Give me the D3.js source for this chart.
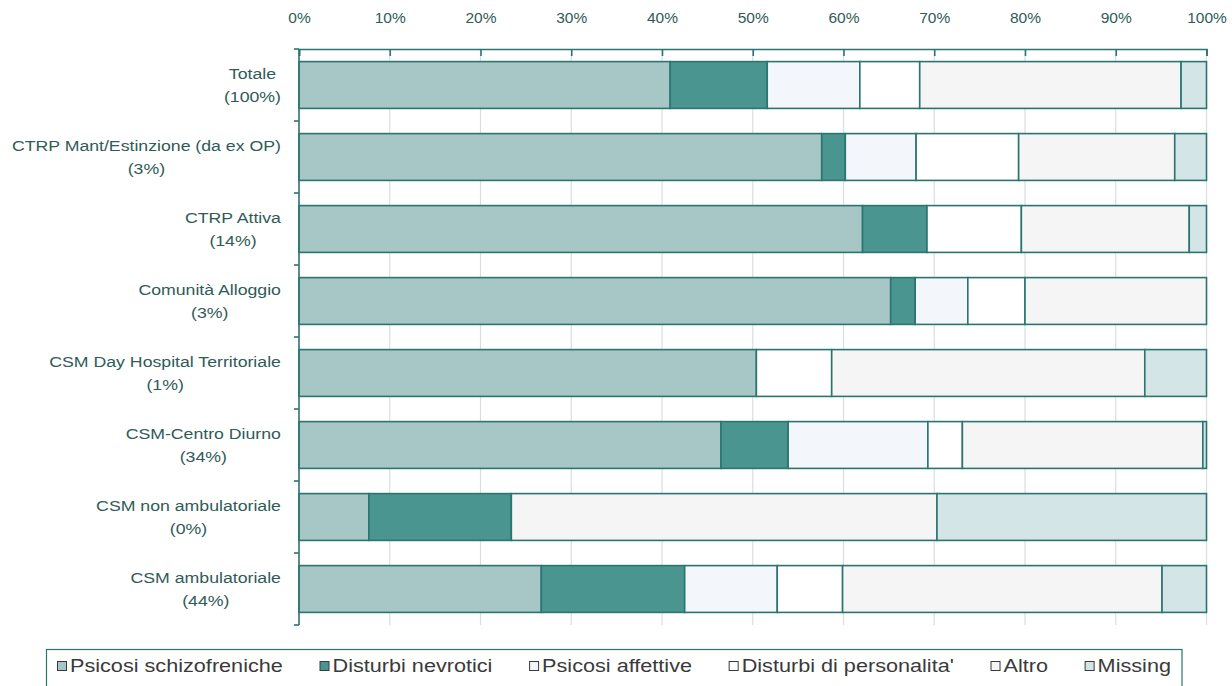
<!DOCTYPE html>
<html>
<head>
<meta charset="utf-8">
<script src="https://cdn.jsdelivr.net/npm/d3@7"></script>
<style>
  html, body { margin: 0; padding: 0; background: #ffffff; }
  svg { display: block; font-family: "Liberation Sans", Arial, sans-serif; }
</style>
</head>
<body>
<svg id="chart" width="1232" height="686"></svg>
<script>
// Service types (rows, top to bottom) and their share of total users
const categories = [
  "Totale",
  "CTRP Mant/Estinzione (da ex OP)",
  "CTRP Attiva",
  "Comunità Alloggio",
  "CSM Day Hospital Territoriale",
  "CSM-Centro Diurno",
  "CSM non ambulatoriale",
  "CSM ambulatoriale"
];
const shares = ["(100%)", "(3%)", "(14%)", "(3%)", "(1%)", "(34%)", "(0%)", "(44%)"];

// Diagnostic groups (stack order, left to right)
const seriesNames = [
  "Psicosi schizofreniche",
  "Disturbi nevrotici",
  "Psicosi affettive",
  "Disturbi di personalita'",
  "Altro",
  "Missing"
];

// Percentages per service type, one array per diagnostic group
const psicosiSchizofreniche = [40.9, 57.6, 62.1, 65.2, 50.4, 46.5, 7.7, 26.7];
const disturbiNevrotici     = [10.7, 2.6, 7.1, 2.7, 0, 7.4, 15.7, 15.8];
const psicosiAffettive      = [10.2, 7.8, 0, 5.8, 0, 15.4, 0, 10.2];
const disturbiPersonalita   = [6.6, 11.3, 10.4, 6.3, 8.3, 3.8, 0, 7.2];
const altro                 = [28.8, 17.2, 18.5, 20.0, 34.5, 26.5, 46.9, 35.2];
const missing               = [2.8, 3.5, 1.9, 0, 6.8, 0.4, 29.7, 4.9];

const tickValues = [0, 10, 20, 30, 40, 50, 60, 70, 80, 90, 100];

const seriesValues = [psicosiSchizofreniche, disturbiNevrotici, psicosiAffettive,
                      disturbiPersonalita, altro, missing];
const fills = ["#a6c7c5", "#4b9591", "#f3f7fb", "#ffffff", "#f5f5f5", "#d3e5e6"];
const strokeCol = "#2b7571";
const textCol = "#2f5b58";

// Rows for the stack layout
const rows = categories.map((c, i) => {
  const r = { category: c };
  seriesNames.forEach((s, j) => { r[s] = seriesValues[j][i]; });
  return r;
});

const svg = d3.select("#chart");
const plot = { left: 299, right: 1206.5, top: 49, bottom: 625 };

const x = d3.scaleLinear().domain([0, 100]).range([plot.left, plot.right]);
const y = d3.scaleBand().domain(categories).range([plot.top, plot.bottom])
  .paddingInner(0.35).paddingOuter(0.175);

// Vertical gridlines
svg.append("g")
  .selectAll("line")
  .data(tickValues.slice(1))
  .join("line")
  .attr("x1", d => x(d)).attr("x2", d => x(d))
  .attr("y1", plot.top).attr("y2", plot.bottom)
  .attr("stroke", "#d9dedf").attr("stroke-width", 1.2);

// Stacked bars
const stack = d3.stack().keys(seriesNames);
const layers = stack(rows);

svg.append("g")
  .selectAll("g")
  .data(layers)
  .join("g")
  .attr("fill", (d, i) => fills[i])
  .selectAll("rect")
  .data(d => d.filter(p => p[1] - p[0] > 0))
  .join("rect")
  .attr("x", d => x(d[0]))
  .attr("width", d => x(d[1]) - x(d[0]))
  .attr("y", d => y(d.data.category))
  .attr("height", y.bandwidth())
  .attr("stroke", strokeCol)
  .attr("stroke-width", 1.6);

// Top percentage axis, ticks pointing into the plot
const xAxis = d3.axisTop(x)
  .tickValues(tickValues)
  .tickFormat(d => d + "%")
  .tickSizeInner(-7)
  .tickSizeOuter(-7)
  .tickPadding(0);

const gx = svg.append("g")
  .attr("transform", `translate(0,${plot.top})`)
  .call(xAxis);
gx.select(".domain").attr("stroke", strokeCol).attr("stroke-width", 1.6);
gx.selectAll(".tick line").attr("stroke", strokeCol).attr("stroke-width", 1.6);
gx.selectAll(".tick text")
  .attr("y", -31)
  .attr("dy", "0.35em")
  .attr("fill", textCol)
  .attr("font-size", 15.5)
  .attr("font-family", "'Liberation Sans', Arial, sans-serif");

// Left category axis: line with small ticks at band boundaries
const gy = svg.append("g");
gy.append("line")
  .attr("x1", plot.left).attr("x2", plot.left)
  .attr("y1", plot.top).attr("y2", plot.bottom)
  .attr("stroke", strokeCol).attr("stroke-width", 1.6);
const boundaries = categories.map(c => y(c) - y.step() * y.paddingInner() / 2)
  .concat([plot.bottom]);
gy.selectAll("line.tk")
  .data(boundaries)
  .join("line")
  .attr("class", "tk")
  .attr("x1", plot.left - 5).attr("x2", plot.left)
  .attr("y1", d => d).attr("y2", d => d)
  .attr("stroke", strokeCol).attr("stroke-width", 1.6);

// Category labels: two centered lines, block right-aligned to the axis
const labelRight = 281;
const labelStretch = 1.18;
const lg = svg.append("g").attr("fill", textCol).attr("font-size", 15);
categories.forEach((c, i) => {
  const cy = y(c) + y.bandwidth() / 2;
  const g = lg.append("g");
  const t1 = g.append("text").text(c).attr("y", cy - 11).attr("dy", "0.35em");
  const t2 = g.append("text").text(shares[i]).attr("y", cy + 12).attr("dy", "0.35em");
  const w = Math.max(t1.node().getComputedTextLength(), t2.node().getComputedTextLength());
  const cx = labelRight - (w * labelStretch) / 2;
  g.selectAll("text")
    .attr("text-anchor", "middle")
    .attr("x", 0)
    .attr("transform", `translate(${cx},0) scale(${labelStretch},1)`);
});

// Legend box along the bottom
const legend = svg.append("g");
legend.append("rect")
  .attr("x", 46.5).attr("y", 649.5)
  .attr("width", 1182 - 46.5).attr("height", 50)
  .attr("fill", "#ffffff")
  .attr("stroke", strokeCol).attr("stroke-width", 1.2);

// Legend entries spread evenly between the first marker and the last label
const legendStretch = 1.17;
const legendStart = 57;
const legendEnd = 1171;
const items = seriesNames.map((s, i) => {
  const item = legend.append("g");
  item.append("rect")
    .attr("y", 661.5)
    .attr("width", 9).attr("height", 9)
    .attr("fill", fills[i])
    .attr("stroke", "#3a3a3a").attr("stroke-width", 1);
  const t = item.append("text")
    .attr("x", 0).attr("y", 666).attr("dy", "0.35em")
    .attr("font-size", 18.5)
    .attr("fill", "#3a3a3a")
    .text(s);
  const w = 13 + t.node().getComputedTextLength() * legendStretch;
  return { item, t, w };
});
const totalW = d3.sum(items, d => d.w);
const gap = (legendEnd - legendStart - totalW) / (items.length - 1);
let cursor = legendStart;
items.forEach(({ item, t, w }) => {
  item.select("rect").attr("x", cursor + 0.5);
  t.attr("transform", `translate(${cursor + 13},0) scale(${legendStretch},1)`);
  cursor += w + gap;
});
</script>
</body>
</html>
